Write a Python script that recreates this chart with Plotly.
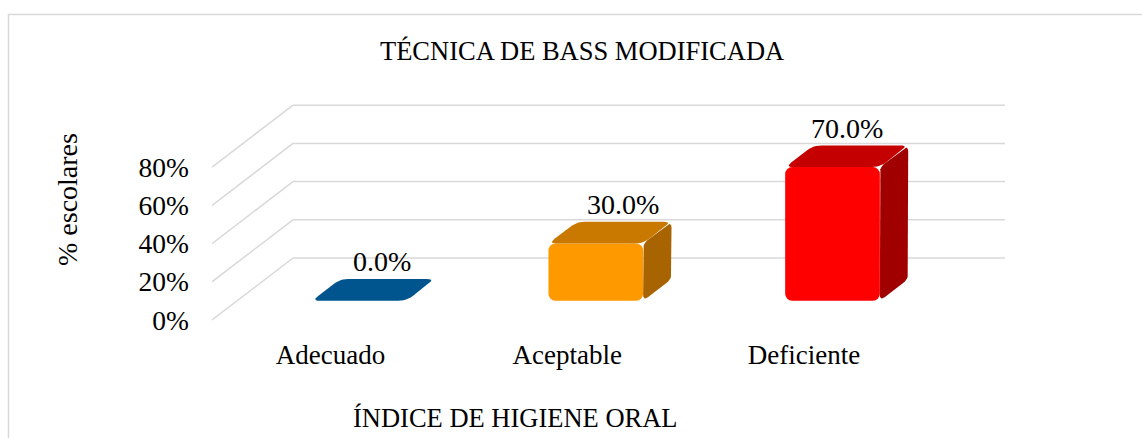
import plotly.graph_objects as go

# ---------------- data ----------------
categories = ["Adecuado", "Aceptable", "Deficiente"]
values = [0.0, 0.30, 0.70]
value_labels = ["0.0%", "30.0%", "70.0%"]
ytick_vals = [0.0, 0.2, 0.4, 0.6, 0.8]
ytick_text = ["0%", "20%", "40%", "60%", "80%"]
front_colors = ["#00558F", "#FF9900", "#FF0000"]
top_colors = ["#00558F", "#C97800", "#C40000"]
side_colors = ["#003F6B", "#A86400", "#A00000"]

title_text = "TÉCNICA DE BASS MODIFICADA"
x_title = "ÍNDICE DE HIGIENE ORAL"
y_title = "% escolares"

# ---------------- faux-3D geometry (axis units) ----------------
W, H = 1142, 438
ML, MR, MT, MB = 212, 137, 80, 108
XR = [-0.5006, 2.8496]
YR = [-10 / 191, 240 / 191]
PW, PH = W - ML - MR, H - MT - MB
PX_X = PW / (XR[1] - XR[0])      # pixels per x unit
PX_Y = PH / (YR[1] - YR[0])      # pixels per y unit
DX, DY = 81 / PX_X, 62 / PX_Y    # full depth offset of the wall
T0, T1 = 0.31, 0.66              # bar depth span
BW = 0.40                        # bar width
BAR_SHIFT = 3.5 / PX_X           # bars sit slightly right of category ticks
LABEL_XSHIFT = [9, 13, 0]        # data-label nudges (px)
FONT = "Liberation Serif, Times New Roman, serif"
GRID = "#D9D9D9"


def rounded(points, r_px, n=6):
    """round polygon corners (computed in pixel space)"""
    pts = [(x * PX_X, y * PX_Y) for x, y in points]
    out = []
    m = len(pts)
    for k in range(m):
        p0, p1, p2 = pts[k - 1], pts[k], pts[(k + 1) % m]

        def toward(a, b, d):
            vx, vy = b[0] - a[0], b[1] - a[1]
            L = (vx * vx + vy * vy) ** 0.5
            d = min(d, L / 2.2)
            return (a[0] + vx / L * d, a[1] + vy / L * d)
        a = toward(p1, p0, r_px)
        b = toward(p1, p2, r_px)
        for j in range(n + 1):
            t = j / n
            x = (1 - t) ** 2 * a[0] + 2 * (1 - t) * t * p1[0] + t * t * b[0]
            y = (1 - t) ** 2 * a[1] + 2 * (1 - t) * t * p1[1] + t * t * b[1]
            out.append((x, y))
    out.append(out[0])
    return [p[0] / PX_X for p in out], [p[1] / PX_Y for p in out]


fig = go.Figure()

ddx, ddy = (T1 - T0) * DX, (T1 - T0) * DY
for i, v in enumerate(values):
    xc = i + T0 * DX + BAR_SHIFT
    xl, xr = xc - BW / 2, xc + BW / 2
    b0 = T0 * DY
    vt = b0 + v
    # side face
    if v > 0:
        sx, sy = rounded([(xr, b0), (xr, vt), (xr + ddx, vt + ddy), (xr + ddx, b0 + ddy)], 6)
        fig.add_trace(go.Scatter(x=sx, y=sy, fill="toself", fillcolor=side_colors[i],
                                 mode="lines", line=dict(width=0), hoverinfo="skip",
                                 showlegend=False))
    # top face
    tx, ty = rounded([(xl, vt), (xr, vt), (xr + ddx, vt + ddy), (xl + ddx, vt + ddy)], 8)
    fig.add_trace(go.Scatter(x=tx, y=ty, fill="toself", fillcolor=top_colors[i],
                             mode="lines", line=dict(width=0), hoverinfo="skip",
                             showlegend=False))

# front faces as real bars
fig.add_trace(go.Bar(
    x=[i + T0 * DX + BAR_SHIFT for i in range(len(values))],
    y=values,
    base=[T0 * DY] * len(values),
    width=BW,
    marker=dict(color=front_colors, line=dict(width=0)),
    hoverinfo="skip", showlegend=False,
))

# gridlines: side wall diagonals + back wall horizontals
shapes = []
for v in ytick_vals:
    shapes.append(dict(type="line", xref="x", yref="y", layer="below",
                       x0=XR[0], y0=v, x1=XR[0] + DX, y1=v + DY,
                       line=dict(color=GRID, width=1.5)))
    shapes.append(dict(type="line", xref="x", yref="y", layer="below",
                       x0=XR[0] + DX, y0=v + DY, x1=XR[1], y1=v + DY,
                       line=dict(color=GRID, width=1.5)))


def px2paper_x(p):
    return (p - ML) / PW


def px2paper_y(p):
    return (H - MB - p) / PH


# chart border
shapes.append(dict(type="rect", xref="paper", yref="paper", layer="below",
                   x0=px2paper_x(8.5), x1=px2paper_x(1160), y0=px2paper_y(460), y1=px2paper_y(14.5),
                   line=dict(color="#D9D9D9", width=1.5), fillcolor="rgba(0,0,0,0)"))

annotations = []
tm = (T0 + T1) / 2
for i, (v, lab) in enumerate(zip(values, value_labels)):
    annotations.append(dict(x=i + tm * DX + BAR_SHIFT, y=v + tm * DY, xref="x", yref="y",
                            text=lab, showarrow=False, yanchor="middle",
                            xshift=LABEL_XSHIFT[i], yshift=28,
                            font=dict(family=FONT, size=28, color="black")))

annotations.append(dict(x=px2paper_x(582), y=px2paper_y(51), xref="paper", yref="paper",
                        text=title_text, showarrow=False, yanchor="middle",
                        font=dict(family=FONT, size=26.5, color="black")))
annotations.append(dict(x=px2paper_x(515), y=px2paper_y(418), xref="paper", yref="paper",
                        text=x_title, showarrow=False, yanchor="middle",
                        font=dict(family=FONT, size=26.5, color="black")))
annotations.append(dict(x=px2paper_x(67), y=px2paper_y(200), xref="paper", yref="paper",
                        text=y_title, showarrow=False, textangle=-90,
                        xanchor="center", yanchor="middle",
                        font=dict(family=FONT, size=28, color="black")))

fig.update_layout(
    width=W, height=H,
    margin=dict(l=ML, r=MR, t=MT, b=MB, pad=0),
    paper_bgcolor="white", plot_bgcolor="white",
    barcornerradius=7,
    shapes=shapes, annotations=annotations,
    xaxis=dict(range=XR, tickvals=list(range(len(categories))), ticktext=categories,
               showgrid=False, zeroline=False, showline=False, ticks="",
               ticklabelstandoff=6,
               tickfont=dict(family=FONT, size=27, color="black"), fixedrange=True),
    yaxis=dict(range=YR, tickvals=ytick_vals, ticktext=ytick_text,
               showgrid=False, zeroline=False, showline=False, ticks="",
               ticklabelstandoff=22,
               tickfont=dict(family=FONT, size=27.5, color="black"), fixedrange=True),
)

fig.write_html("out.html", config={"displayModeBar": False},
               post_script="document.body.style.margin='0';document.body.style.overflow='hidden';")
